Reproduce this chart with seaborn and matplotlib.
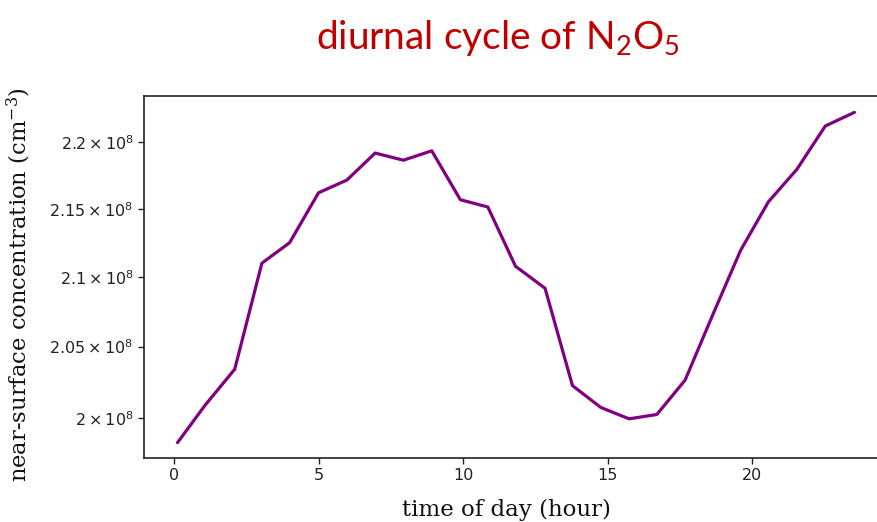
import matplotlib
matplotlib.use("Agg")
import matplotlib.pyplot as plt
import seaborn as sns
import pandas as pd
from matplotlib.ticker import NullLocator
from matplotlib import font_manager

# Diurnal cycle of near-surface N2O5 (hourly means)
hours = [0.11, 1.07, 2.09, 3.03, 3.99, 4.99, 5.97, 6.95, 7.93, 8.91,
         9.90, 10.85, 11.81, 12.83, 13.78, 14.76, 15.74, 16.70, 17.68,
         18.64, 19.60, 20.56, 21.55, 22.53, 23.54]
conc = [1.983e8, 2.009e8, 2.034e8, 2.110e8, 2.125e8, 2.162e8, 2.1715e8,
        2.1919e8, 2.1865e8, 2.1936e8, 2.1568e8, 2.1514e8, 2.1077e8,
        2.0918e8, 2.0225e8, 2.0073e8, 1.9994e8, 2.0024e8, 2.0264e8,
        2.0729e8, 2.1194e8, 2.1552e8, 2.1797e8, 2.2125e8, 2.2230e8]

x_ticks = [0, 5, 10, 15, 20]
y_ticks = [2.0e8, 2.05e8, 2.1e8, 2.15e8, 2.2e8]
y_tick_labels = [r"$\mathdefault{2\times10^{8}}$",
                 r"$\mathdefault{2.05\times10^{8}}$",
                 r"$\mathdefault{2.1\times10^{8}}$",
                 r"$\mathdefault{2.15\times10^{8}}$",
                 r"$\mathdefault{2.2\times10^{8}}$"]

title_text = r"diurnal cycle of N$_2$O$_5$"
x_label = "time of day (hour)"
y_label = r"near-surface concentration (cm$^{-3}$)"

df = pd.DataFrame({"hour": hours, "conc": conc})

# pick a condensed sans for the title if one is installed
installed = {f.name for f in font_manager.fontManager.ttflist}
title_font = "Liberation Sans Narrow" if "Liberation Sans Narrow" in installed else "Lato"
title_size = 33 if title_font == "Liberation Sans Narrow" else 28

sns.set_theme(style="ticks")
plt.rcParams.update({
    "font.family": ["DejaVu Sans"],
    "mathtext.fontset": "dejavusans",
    "mathtext.rm": title_font,
    "axes.edgecolor": "#222222",
    "axes.linewidth": 1.2,
    "xtick.color": "#222222",
    "ytick.color": "#222222",
    "xtick.labelsize": 11.5,
    "ytick.labelsize": 11.5,
    "xtick.major.size": 4,
    "ytick.major.size": 4,
    "xtick.major.width": 1.0,
    "ytick.major.width": 1.0,
})

fig = plt.figure(figsize=(8.77, 5.22), dpi=100)
ax = fig.add_axes([0.1642, 0.1226, 0.847, 0.6935])

sns.lineplot(data=df, x="hour", y="conc", color="purple", linewidth=2.3, ax=ax)

ax.set_yscale("log")
ax.set_xlim(-1.05, 24.66)
ax.set_ylim(1.9725e8, 2.2356e8)
ax.set_xticks(x_ticks)
ax.set_yticks(y_ticks, labels=y_tick_labels)
ax.yaxis.set_minor_locator(NullLocator())
ax.xaxis.set_minor_locator(NullLocator())
ax.set_xlabel("")
ax.set_ylabel("")

fig.text(0.568, 0.907, title_text, color="#c00000", fontsize=title_size,
         family=title_font, math_fontfamily="custom", ha="center", va="baseline")
fig.text(0.577, 0.011, x_label, fontsize=16.5, family="DejaVu Serif",
         color="#111111", ha="center", va="baseline")
fig.text(0.021, 0.455, y_label, fontsize=16.3, family="DejaVu Serif",
         math_fontfamily="dejavuserif", color="#111111", rotation=90,
         ha="center", va="center")

fig.savefig("out.png", dpi=100)
